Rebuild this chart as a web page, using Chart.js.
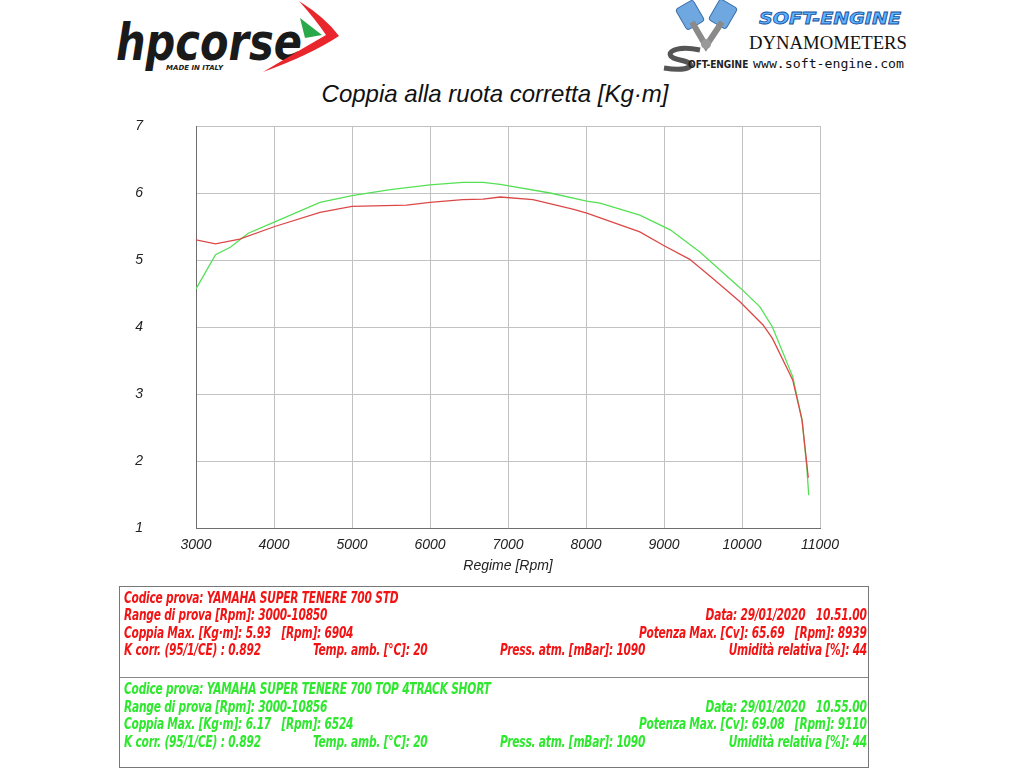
<!DOCTYPE html>
<html>
<head>
<meta charset="utf-8">
<script src="https://cdn.jsdelivr.net/npm/chart.js@4.4.0/dist/chart.umd.min.js"></script>
<style>
    body { margin: 0; background: #fff; width: 1024px; height: 768px; overflow: hidden; position: relative; font-family: "Liberation Sans", Arial, sans-serif; }
    #torqueChart { position: absolute; left: 0; top: 0; }
    .title { position: absolute; left: 0; width: 990px; top: 80px; text-align: center; font-style: italic; font-size: 24px; color: #111; }
    .info { position: absolute; left: 119px; top: 586px; width: 748px; height: 180px; border: 1px solid #777; }
    .info .sep { position: absolute; left: 0; right: 0; top: 90px; border-top: 1px solid #888; }
    .row { position: absolute; white-space: pre; font-family: "DejaVu Sans Condensed", sans-serif; font-weight: bold; font-style: italic; font-size: 16px; line-height: 17px; letter-spacing: -0.3px; transform: scaleX(0.74); transform-origin: left center; }
    .row.r { transform-origin: right center; }
    .red { color: #f21414; }
    .green { color: #2ee82e; }
    .logo { position: absolute; left: 0; top: 0; }
</style>
</head>
<body>

<svg class="logo" width="1024" height="80">
    <!-- hp corse -->
    <text x="116" y="60" font-family="DejaVu Sans" font-weight="bold" font-style="italic" font-size="52" textLength="186" lengthAdjust="spacingAndGlyphs" fill="#1a1a1a">hpcorse</text>
    <path d="M299,1 Q326,18 339,36 Q310,55 263,72 Q300,50 326,35 Q316,20 299,1 Z" fill="#e8262b"/>
    <path d="M300,18 L322,35 L305,38 Z" fill="#2aa84a"/>
    <text x="166" y="70" font-family="DejaVu Sans" font-weight="bold" font-style="italic" font-size="7" fill="#222">MADE IN ITALY</text>

    <!-- soft-engine -->
    <rect x="680" y="3" width="20" height="24" rx="3" fill="#6fa8e0" stroke="#3b6ea8" transform="rotate(-30 690 15)"/>
    <rect x="713" y="2" width="20" height="24" rx="3" fill="#6fa8e0" stroke="#3b6ea8" transform="rotate(30 723 14)"/>
    <path d="M692,22 L706,46 L722,22" stroke="#8a8a8a" stroke-width="6" fill="none"/>
    <circle cx="706" cy="44" r="5" fill="#999"/>
    <path d="M700,50 C672,44 660,56 680,60 C700,64 690,72 664,68" stroke="#555" stroke-width="5" fill="none"/>
    <text x="688" y="68" font-family="DejaVu Sans Condensed" font-weight="bold" font-size="10" fill="#222">OFT-ENGINE</text>
    <text x="759" y="24" font-family="DejaVu Sans" font-weight="bold" font-style="italic" font-size="16" textLength="142" lengthAdjust="spacingAndGlyphs" fill="#5ab4ff" stroke="#1a4fa0" stroke-width="0.8">SOFT-ENGINE</text>
    <text x="749" y="49" font-family="Liberation Serif" font-size="18" textLength="158" lengthAdjust="spacingAndGlyphs" fill="#111">DYNAMOMETERS</text>
    <text x="753" y="68" font-family="DejaVu Sans Mono" font-size="12" textLength="151" lengthAdjust="spacingAndGlyphs" fill="#111">www.soft-engine.com</text>
</svg>

<div class="title">Coppia alla ruota corretta [Kg·m]</div>

<canvas id="torqueChart" width="1024" height="768"></canvas>

<div class="info">
    <div class="sep"></div>
    <div class="row red" style="left:4px; top:2px;">Codice prova: YAMAHA SUPER TENERE 700 STD</div>
    <div class="row red" style="left:4px; top:19px;">Range di prova [Rpm]: 3000-10850</div>
    <div class="row red r" style="right:1px; top:19px;">Data: 29/01/2020   10.51.00</div>
    <div class="row red" style="left:4px; top:37px;">Coppia Max. [Kg·m]: 5.93   [Rpm]: 6904</div>
    <div class="row red r" style="right:1px; top:37px;">Potenza Max. [Cv]: 65.69   [Rpm]: 8939</div>
    <div class="row red" style="left:4px; top:54px;">K corr. (95/1/CE) : 0.892</div>
    <div class="row red" style="left:193px; top:54px;">Temp. amb. [°C]: 20</div>
    <div class="row red" style="left:380px; top:54px;">Press. atm. [mBar]: 1090</div>
    <div class="row red r" style="right:1px; top:54px;">Umidità relativa [%]: 44</div>

    <div class="row green" style="left:4px; top:93px;">Codice prova: YAMAHA SUPER TENERE 700 TOP 4TRACK SHORT</div>
    <div class="row green" style="left:4px; top:111px;">Range di prova [Rpm]: 3000-10856</div>
    <div class="row green r" style="right:1px; top:111px;">Data: 29/01/2020   10.55.00</div>
    <div class="row green" style="left:4px; top:128px;">Coppia Max. [Kg·m]: 6.17   [Rpm]: 6524</div>
    <div class="row green r" style="right:1px; top:128px;">Potenza Max. [Cv]: 69.08   [Rpm]: 9110</div>
    <div class="row green" style="left:4px; top:146px;">K corr. (95/1/CE) : 0.892</div>
    <div class="row green" style="left:193px; top:146px;">Temp. amb. [°C]: 20</div>
    <div class="row green" style="left:380px; top:146px;">Press. atm. [mBar]: 1090</div>
    <div class="row green r" style="right:1px; top:146px;">Umidità relativa [%]: 44</div>
</div>

<script>
// STD run (red)
const stdRpm = [3000, 3250, 3560, 4010, 4590, 5000, 5700, 6000, 6420, 6680, 6900, 7320, 7830, 8010, 8690, 8990, 9330, 9630, 9970, 10270, 10390, 10650, 10770, 10850];
const stdTorque = [5.30, 5.24, 5.31, 5.50, 5.71, 5.80, 5.82, 5.86, 5.90, 5.91, 5.94, 5.90, 5.76, 5.70, 5.42, 5.22, 5.01, 4.72, 4.38, 4.03, 3.83, 3.21, 2.61, 1.75];

// TOP 4TRACK SHORT run (green)
const topRpm = [3000, 3250, 3440, 3670, 4010, 4590, 5000, 5490, 6000, 6420, 6680, 6900, 7540, 8010, 8180, 8690, 9080, 9460, 9980, 10230, 10390, 10650, 10770, 10830, 10856];
const topTorque = [4.57, 5.08, 5.19, 5.40, 5.57, 5.86, 5.96, 6.05, 6.12, 6.16, 6.16, 6.13, 6.00, 5.88, 5.85, 5.67, 5.45, 5.12, 4.58, 4.30, 4.00, 3.26, 2.61, 1.91, 1.49];

const rpmTicks = [3000, 4000, 5000, 6000, 7000, 8000, 9000, 10000, 11000];
const torqueTicks = [1, 2, 3, 4, 5, 6, 7];

const red = '#dc4848';
const green = '#55e055';

function toPoints(xs, ys) {
    return xs.map((x, i) => ({ x: x, y: ys[i] }));
}

document.addEventListener('DOMContentLoaded', () => {
    const ctx = document.getElementById('torqueChart').getContext('2d');

    const tickFont = { family: 'Liberation Sans', size: 14, style: 'italic' };

    new Chart(ctx, {
        type: 'line',
        data: {
            datasets: [{
                label: 'STD',
                data: toPoints(stdRpm, stdTorque),
                borderColor: red,
                borderWidth: 1.3,
                pointRadius: 0,
                fill: false,
                tension: 0
            }, {
                label: 'TOP 4TRACK SHORT',
                data: toPoints(topRpm, topTorque),
                borderColor: green,
                borderWidth: 1.3,
                pointRadius: 0,
                fill: false,
                tension: 0
            }]
        },
        options: {
            responsive: false,
            animation: false,
            layout: { padding: { left: 0, top: 126, right: 204, bottom: 193 } },
            plugins: {
                legend: { display: false },
                tooltip: { enabled: false }
            },
            scales: {
                x: {
                    type: 'linear',
                    min: rpmTicks[0],
                    max: rpmTicks[rpmTicks.length - 1],
                    afterBuildTicks: scale => { scale.ticks = rpmTicks.map(v => ({ value: v })); },
                    afterFit: scale => { scale.height = 47; },
                    ticks: { padding: 9, maxRotation: 0, color: '#222', font: tickFont, callback: v => String(v) },
                    grid: { color: '#c2c2c2', drawTicks: false },
                    border: { color: '#6e6e6e' },
                    title: { display: true, text: 'Regime [Rpm]', color: '#222', padding: 0, font: { family: 'Liberation Sans', size: 14, style: 'italic' } }
                },
                y: {
                    min: torqueTicks[0],
                    max: torqueTicks[torqueTicks.length - 1],
                    afterBuildTicks: scale => { scale.ticks = torqueTicks.map(v => ({ value: v })); },
                    afterFit: scale => { scale.width = 196; },
                    ticks: { padding: 53, color: '#222', font: tickFont, callback: v => String(v) },
                    grid: { color: '#c2c2c2', drawTicks: false },
                    border: { color: '#6e6e6e' }
                }
            }
        }
    });
});
</script>
</body>
</html>
